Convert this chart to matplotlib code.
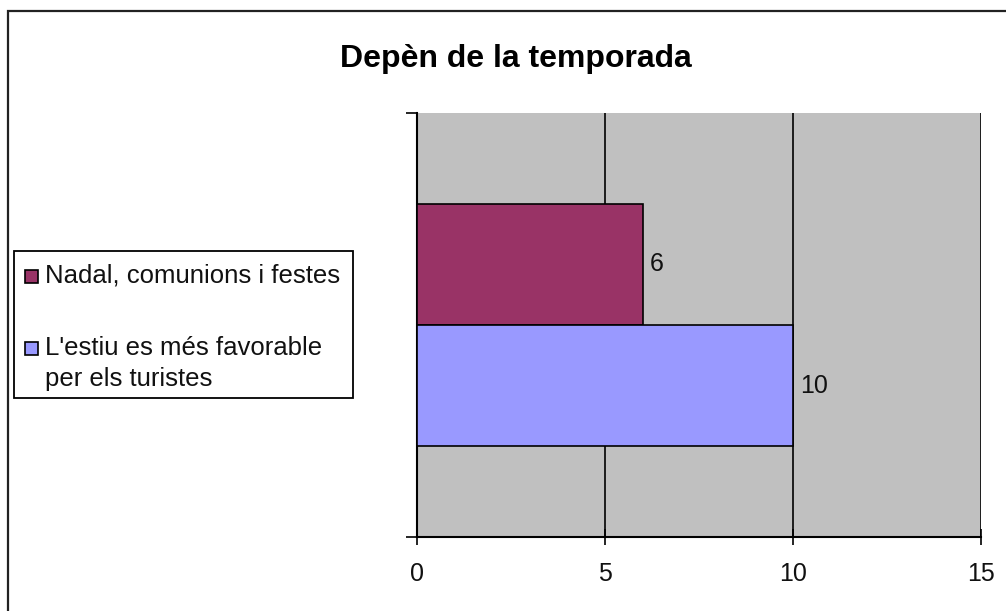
import matplotlib
matplotlib.use("Agg")
import matplotlib.pyplot as plt
from matplotlib.patches import Rectangle

title = "Depèn de la temporada"
series_labels = ["Nadal, comunions i festes", "L'estiu es més favorable\nper els turistes"]
series_values = [6, 10]
series_colors = ["#993366", "#9999FF"]
x_ticks = [0, 5, 10, 15]

plt.rcParams['font.family'] = ['Liberation Sans', 'DejaVu Sans']

W, H = 1006, 611
fig = plt.figure(figsize=(W / 100, H / 100), dpi=100)


def fx(px):
    return px / W


def fy(py):
    return 1 - py / H


# outer chart border (extends past right/bottom edge)
fig.patches.append(Rectangle((fx(8), -0.1), 1.2, fy(11) + 0.1,
                             transform=fig.transFigure, fill=False,
                             edgecolor="#222222", linewidth=1.6))

left, right, top, bottom = 417, 981, 113, 537
ax = fig.add_axes([fx(left), fy(bottom), (right - left) / W, (bottom - top) / H])
ax.set_facecolor("#C0C0C0")

group = 1 / 1.75  # Excel gap width 75%
bh = group / len(series_values)
for i, (lab, val, col) in enumerate(zip(series_labels, series_values, series_colors)):
    yc = group / 2 - bh * (i + 0.5)
    ax.barh(yc, val, height=bh, color=col, edgecolor="black", linewidth=1.2,
            label=lab, zorder=3)
    ax.annotate(str(val), (val, yc), xytext=(5, 0), textcoords="offset points",
                va="center", ha="left", fontsize=18, color="#111111", zorder=4)

ax.set_xlim(0, 15)
ax.set_ylim(-0.5, 0.5)
ax.set_xticks(x_ticks)
ax.set_xticklabels([str(t) for t in x_ticks], fontsize=18, color="#111111")
ax.set_yticks([-0.5, 0.5])
ax.set_yticklabels([])
ax.tick_params(axis="x", direction="inout", length=12, width=1.2, pad=12)
ax.tick_params(axis="y", direction="out", length=8, width=1.2)
ax.xaxis.grid(True, color="black", linewidth=1.2, zorder=1)
ax.set_axisbelow(True)
for s in ["top", "right"]:
    ax.spines[s].set_visible(False)
for s in ["left", "bottom"]:
    ax.spines[s].set_linewidth(1.5)
    ax.spines[s].set_color("black")

fig.text(fx(516), fy(67), title, ha="center", va="baseline", fontsize=23,
         fontweight="bold")

# legend box drawn in figure pixels
fig.patches.append(Rectangle((fx(14), fy(398)), (353 - 14) / W, (398 - 251) / H,
                             transform=fig.transFigure, facecolor="white",
                             edgecolor="black", linewidth=1.3, zorder=5))
entry_baselines = [283, 355]
line_step = 31
for lab, col, base in zip(series_labels, series_colors, entry_baselines):
    fig.patches.append(Rectangle((fx(25), fy(base)), 13 / W, 13 / H,
                                 transform=fig.transFigure, facecolor=col,
                                 edgecolor="black", linewidth=1.2, zorder=6))
    for k, line in enumerate(lab.split("\n")):
        fig.text(fx(45), fy(base + k * line_step), line, ha="left", va="baseline",
                 fontsize=18.5, color="#111111", zorder=7)

fig.savefig("out.png", dpi=100)
